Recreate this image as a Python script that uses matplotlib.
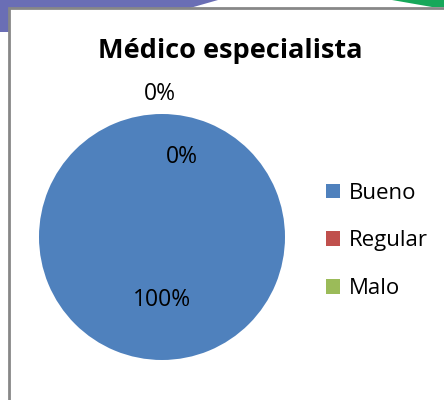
import numpy as np
import matplotlib.pyplot as plt

# chart data
title = "Médico especialista"
categories = ["Bueno", "Regular", "Malo"]
values = [100, 0, 0]
colors = ["#4F81BD", "#C0504D", "#9BBB59"]

W, H = 444, 400
plt.rcParams["font.family"] = ["Open Sans", "DejaVu Sans"]
fig = plt.figure(figsize=(W/100, H/100), dpi=100)
fig.patch.set_facecolor("white")

# background axes in pixel units for the slide decoration and chart frame
bg = fig.add_axes([0, 0, 1, 1], zorder=0)
bg.set_xlim(0, W)
bg.set_ylim(H, 0)
bg.axis("off")
bg.fill([0, 218, 190, 0], [0, 0, 8, 8], color="#6a6eb5", lw=0, zorder=1)
bg.fill([0, 9, 9, 0], [0, 0, 32, 32], color="#6a6eb5", lw=0, zorder=1)
bg.fill([392, 444, 444, 432], [0, 0, 7, 7], color="#16a85a", lw=0, zorder=1)
bg.fill([9, 460, 460, 9], [8, 8, 420, 420], facecolor="white",
        edgecolor="#878787", lw=2, zorder=5)

# pie axes: center (162, 237) px, radius 123 px
cx, cy, r = 162, 237, 123
ax = fig.add_axes([(cx - r) / W, (H - cy - r) / H, 2 * r / W, 2 * r / H], zorder=2)
wedges, _ = ax.pie(values, colors=colors, startangle=90, counterclock=False,
                   wedgeprops=dict(linewidth=0))
ax.set_xlim(-1, 1)
ax.set_ylim(-1, 1)

# percentage labels (Excel-style nudging for the empty slices)
total = sum(values)
label_r = [0.51, 0.65, 1.16]
label_dx = [0.0, 0.16, -0.02]
for w, v, lr, dx in zip(wedges, values, label_r, label_dx):
    ang = np.deg2rad((w.theta1 + w.theta2) / 2)
    ax.text(lr * np.cos(ang) + dx, lr * np.sin(ang), f"{v / total * 100:.0f}%",
            ha="center", va="center", fontsize=16.5, color="black")

fig.text(230 / W, 1 - 51 / H, title, ha="center", va="center",
         fontsize=19.5, fontweight="bold", zorder=3)

leg = fig.legend(wedges, categories, loc="center left",
                 bbox_to_anchor=(306 / W, 1 - 241 / H), frameon=False,
                 fontsize=16, handlelength=0.65, handleheight=0.65,
                 handletextpad=0.4, labelspacing=1.2)
leg.set_zorder(3)

fig.savefig("out.png", dpi=100)
